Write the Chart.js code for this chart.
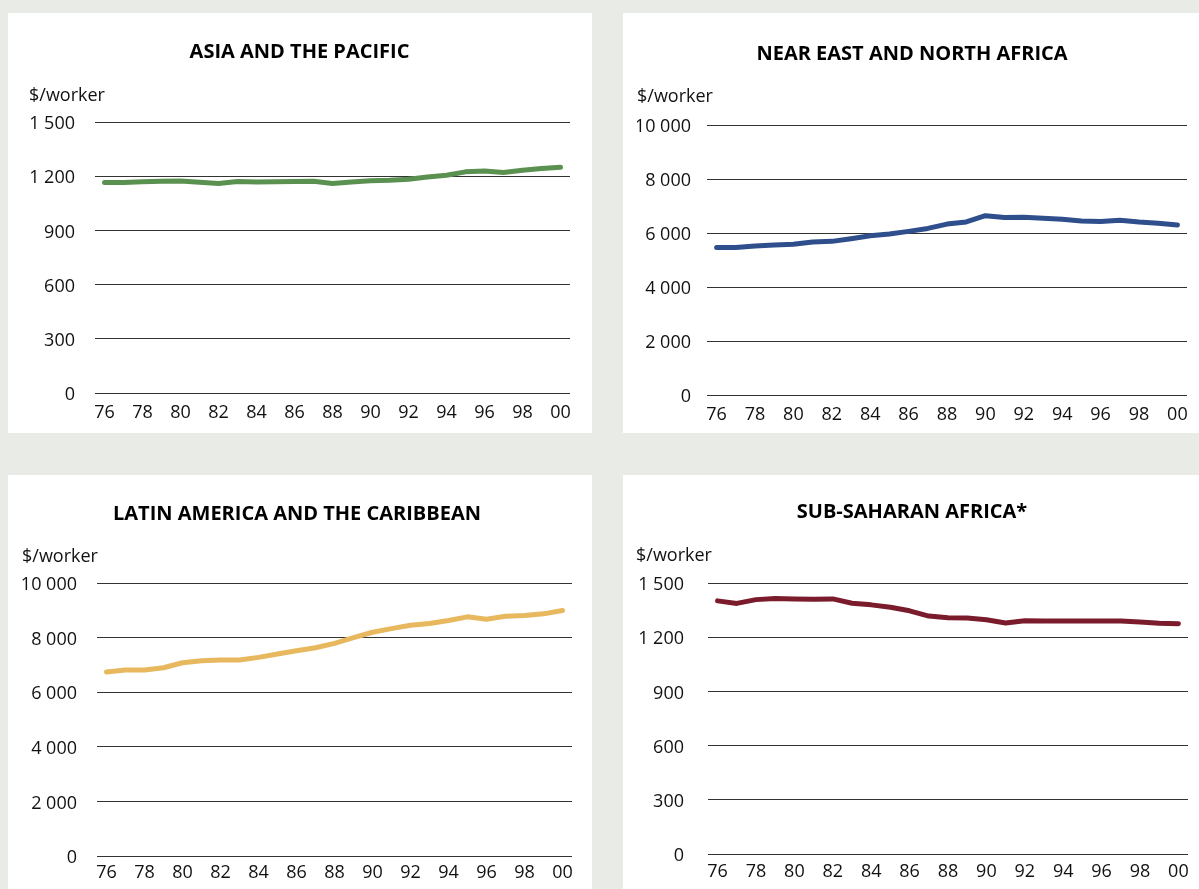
<!DOCTYPE html>
<html>
<head>
<meta charset="utf-8">
<script src="https://cdn.jsdelivr.net/npm/chart.js@4.4.1/dist/chart.umd.min.js"></script>
<style>
    html, body { margin: 0; padding: 0; }
    body { width: 1199px; height: 889px; background: #e9ebe6; position: relative; overflow: hidden; }
    .panel { position: absolute; background: #ffffff; }
</style>
</head>
<body>
<div class="panel" style="left:8px;top:13px;width:584px;height:420px"><canvas id="asiaGraph"></canvas></div>
<div class="panel" style="left:623px;top:13px;width:576px;height:420px"><canvas id="nearEastGraph"></canvas></div>
<div class="panel" style="left:8px;top:475px;width:584px;height:414px"><canvas id="latinGraph"></canvas></div>
<div class="panel" style="left:623px;top:475px;width:576px;height:414px"><canvas id="africaGraph"></canvas></div>
<script>
// years 1976 - 2000
const years = ['76', '77', '78', '79', '80', '81', '82', '83', '84', '85', '86', '87', '88',
    '89', '90', '91', '92', '93', '94', '95', '96', '97', '98', '99', '00'];

const asiaValues = [1165, 1165, 1169, 1172, 1174, 1167, 1160, 1171, 1168, 1169, 1170, 1172, 1160,
    1168, 1175, 1177, 1183, 1196, 1205, 1224, 1229, 1220, 1233, 1242, 1250];
const nearEastValues = [5460, 5460, 5520, 5555, 5580, 5665, 5690, 5790, 5900, 5960, 6060, 6170, 6330,
    6410, 6640, 6570, 6580, 6545, 6505, 6445, 6430, 6470, 6405, 6360, 6295];
const latinValues = [6740, 6810, 6810, 6895, 7080, 7150, 7180, 7180, 7275, 7400, 7520, 7630, 7790,
    8000, 8195, 8330, 8455, 8515, 8625, 8760, 8675, 8785, 8810, 8870, 8995];
const africaValues = [1401, 1387, 1408, 1414, 1412, 1410, 1412, 1388, 1379, 1366, 1346, 1317, 1308,
    1306, 1297, 1279, 1291, 1290, 1290, 1290, 1290, 1290, 1284, 1277, 1275];

const smallAxis = { max: 1500, step: 300 };
const bigAxis = { max: 10000, step: 2000 };

const fontFamily = "'Open Sans', 'Noto Sans', sans-serif";
const tickSize = 18;
const titleSize = 20;
const unitSize = 18;

function spaced(value) {
    return String(value).replace(/\B(?=(\d{3})+(?!\d))/g, ' ');
}

// box: panel size and where the plot area / texts sit inside it
function makeChart(canvasId, title, values, color, axis, box) {
    const xPad = box.xLabelY - box.bottom - tickSize / 2;
    return new Chart(document.getElementById(canvasId), {
        type: 'line',
        data: {
            labels: years,
            datasets: [{
                data: values,
                borderColor: color,
                borderWidth: 5,
                pointRadius: 0,
                tension: 0,
                borderCapStyle: 'round',
                borderJoinStyle: 'round'
            }]
        },
        options: {
            responsive: true,
            maintainAspectRatio: false,
            animation: false,
            layout: {
                padding: { left: box.unitX, right: box.width - box.right, top: 0, bottom: 0 }
            },
            plugins: {
                legend: { display: false },
                tooltip: { enabled: false },
                title: {
                    display: true,
                    text: title,
                    color: '#000',
                    font: { family: fontFamily, size: titleSize, weight: 'bold', lineHeight: 1 },
                    padding: { top: box.titleY - titleSize / 2, bottom: 0 }
                },
                subtitle: {
                    display: true,
                    text: '$/worker',
                    align: 'start',
                    color: '#111',
                    font: { family: fontFamily, size: unitSize, lineHeight: 1 },
                    padding: {
                        top: box.unitY - unitSize / 2 - (box.titleY + titleSize / 2),
                        bottom: box.top - (box.unitY + unitSize / 2)
                    }
                }
            },
            scales: {
                x: {
                    offset: true,
                    grid: { display: false, drawTicks: false },
                    border: { display: false },
                    ticks: {
                        autoSkip: false,
                        maxRotation: 0,
                        padding: xPad,
                        color: '#111',
                        font: { family: fontFamily, size: tickSize, lineHeight: 1 },
                        callback: (value, index) => index % 2 === 0 ? years[index] : ''
                    },
                    afterFit: (scale) => { scale.height = box.height - box.bottom; }
                },
                y: {
                    min: 0,
                    max: axis.max,
                    grid: { color: '#333333', lineWidth: 1, drawTicks: false },
                    border: { display: false },
                    ticks: {
                        stepSize: axis.step,
                        padding: box.left - box.tickRight,
                        labelOffset: 2,
                        color: '#111',
                        font: { family: fontFamily, size: tickSize, lineHeight: 1 },
                        callback: (value) => spaced(value)
                    },
                    afterFit: (scale) => { scale.width = box.left - box.unitX; }
                }
            }
        }
    });
}

makeChart('asiaGraph', 'ASIA AND THE PACIFIC', asiaValues, '#5b9150', smallAxis,
    { width: 584, height: 420, left: 87, right: 562, top: 109, bottom: 380, titleY: 39, unitY: 83, unitX: 21, tickRight: 67, xLabelY: 400 });

makeChart('nearEastGraph', 'NEAR EAST AND NORTH AFRICA', nearEastValues, '#2e4e8c', bigAxis,
    { width: 576, height: 420, left: 84, right: 564, top: 112, bottom: 382, titleY: 41, unitY: 84, unitX: 14, tickRight: 68, xLabelY: 402 });

makeChart('latinGraph', 'LATIN AMERICA AND THE CARIBBEAN', latinValues, '#e8b85e', bigAxis,
    { width: 584, height: 414, left: 89, right: 564, top: 108, bottom: 381, titleY: 39, unitY: 82, unitX: 14, tickRight: 69, xLabelY: 398 });

makeChart('africaGraph', 'SUB-SAHARAN AFRICA*', africaValues, '#7a1c2c', smallAxis,
    { width: 576, height: 414, left: 85, right: 565, top: 108, bottom: 379, titleY: 37, unitY: 81, unitX: 13, tickRight: 61, xLabelY: 397 });
</script>
</body>
</html>
